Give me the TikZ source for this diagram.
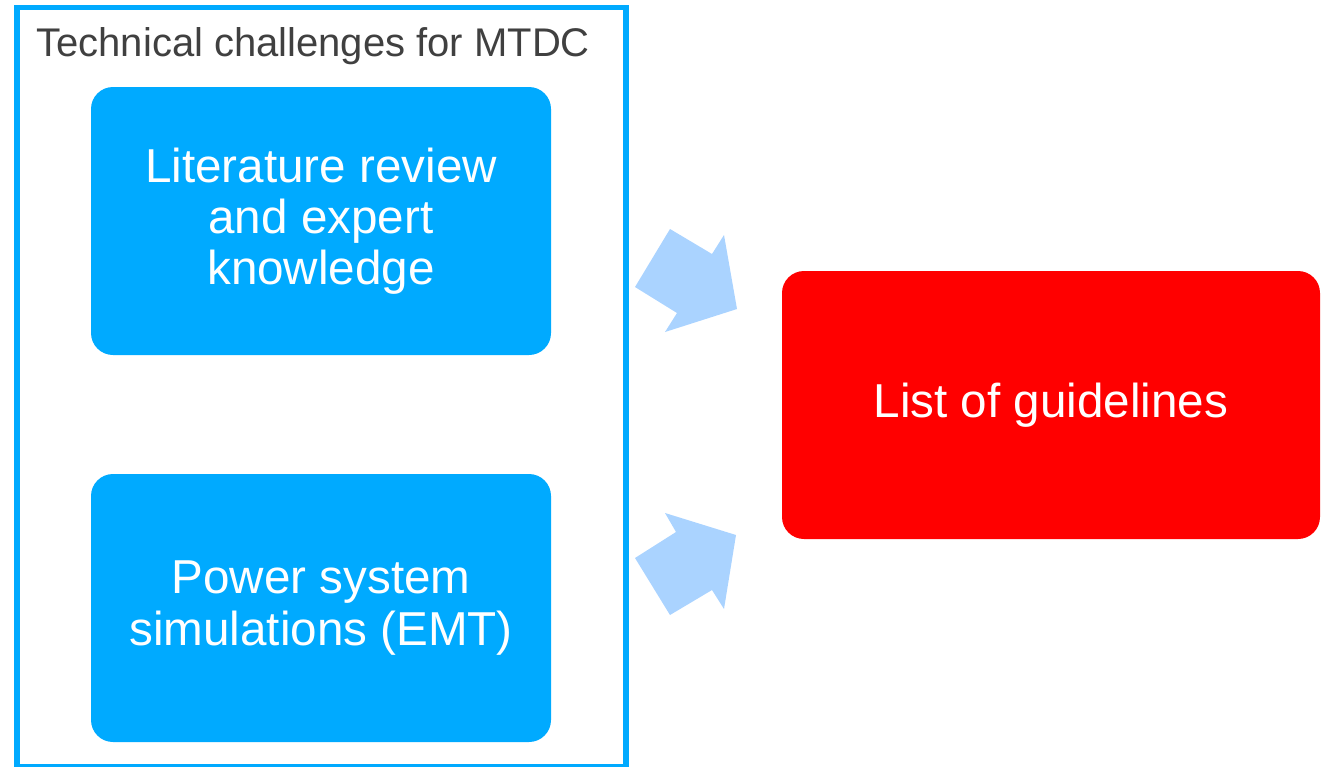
\documentclass[tikz,border=0pt]{standalone}
\usepackage{fontspec}
\setmainfont{Liberation Sans}
\usetikzlibrary{positioning}
\definecolor{boxblue}{RGB}{0,170,255}
\definecolor{arrowblue}{RGB}{170,211,255}
\definecolor{titlegray}{RGB}{64,64,64}
\definecolor{listred}{RGB}{255,0,0}

\begin{document}
\begin{tikzpicture}[x=0.5pt,y=-0.5pt,
            every node/.style={inner sep=0pt},
            step box/.style={fill=boxblue, rounded corners=11pt,
                minimum width=230pt, minimum height=134pt,
                text=white, align=center,
                font=\fontsize{23.8}{25.6}\selectfont},
            result box/.style={step box, fill=listred, minimum width=269pt},
            block arrow/.style={fill=arrowblue, draw=none},
            ]
            \useasboundingbox (0,0) rectangle (1332,766);

            % frame round the two inputs
            \draw[boxblue, line width=2.6pt] (17,7.5) rectangle (626,767);
            \node[anchor=west, text=titlegray, font=\fontsize{20}{22}\selectfont]
                (title) at (36,46) {Technical challenges for MTDC};

            \node[step box] (review) at (321,221) {Literature review\\and expert\\knowledge};
            \node[step box] (sims) at (321,608) {Power system\\simulations (EMT)};
            \node[result box] (list) at (1051,405) {List of guidelines};

            % block arrows
            \fill[block arrow] (635,287) -- (670,229) -- (712,254) -- (724,235)
                -- (737,309) -- (665,332) -- (677,313) -- cycle;
            \fill[block arrow] (635,558) -- (676,532) -- (665,513) -- (736,535)
                -- (724,609) -- (712,590) -- (670,615) -- cycle;
        \end{tikzpicture}
\end{document}
